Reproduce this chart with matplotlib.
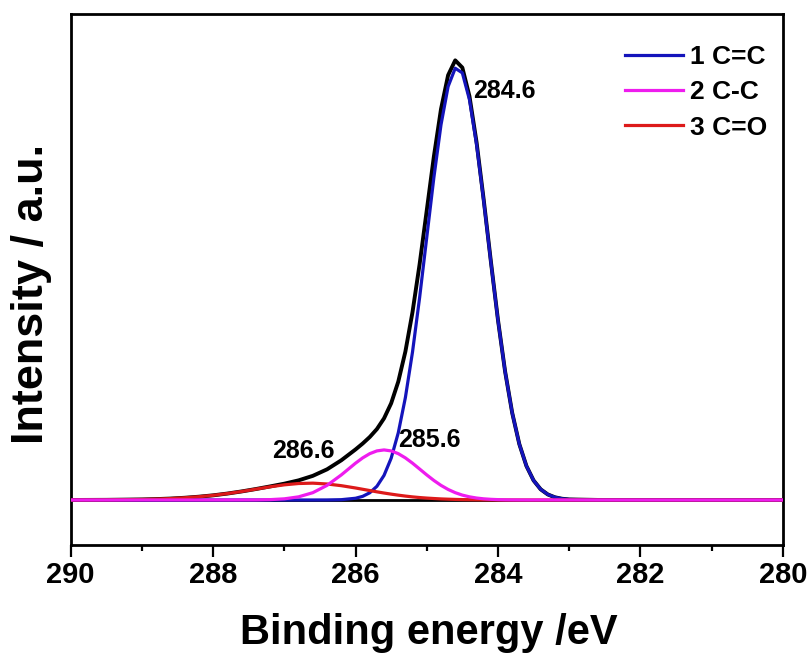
import matplotlib
matplotlib.use('Agg')
import matplotlib.pyplot as plt
from matplotlib.ticker import MultipleLocator

plt.rcParams['font.family'] = ['Liberation Sans', 'DejaVu Sans']
plt.rcParams['font.weight'] = 'bold'

# binding energy grid (eV) and intensities
energy = [290.0, 289.5, 289.0, 288.8, 288.6, 288.4, 288.2, 288.0, 287.8, 287.6,
          287.4, 287.2, 287.0, 286.8, 286.6, 286.4, 286.2,
          286.0, 285.9, 285.8, 285.7, 285.6, 285.5, 285.4, 285.3, 285.2, 285.1,
          285.0, 284.9, 284.8, 284.7, 284.6, 284.5, 284.4, 284.3, 284.2, 284.1,
          284.0, 283.9, 283.8, 283.7, 283.6, 283.5, 283.4, 283.3, 283.2, 283.1,
          283.0, 282.6, 282.0, 281.0, 280.0]

envelope = [0, 0.03, 0.12, 0.20, 0.32, 0.50, 0.74, 1.05, 1.45, 1.93,
            2.47, 3.06, 3.68, 4.43, 5.45, 6.92, 8.96,
            11.41, 12.74, 14.22, 16.01, 18.42, 21.82, 26.71, 33.50, 42.41, 53.25,
            65.35, 77.52, 88.22, 95.89, 99.24, 97.60, 91.13, 80.71, 67.76, 53.93,
            40.68, 29.06, 19.68, 12.62, 7.67, 4.42, 2.41, 1.25, 0.61, 0.28,
            0.12, 0.01, 0, 0, 0]

cc_double = [0, 0, 0, 0, 0, 0, 0, 0, 0, 0,
             0, 0, 0, 0, 0, 0.01, 0.07,
             0.39, 0.82, 1.63, 3.09, 5.55, 9.42, 15.16, 23.12, 33.40, 45.71,
             59.26, 72.78, 84.68, 93.33, 97.46, 96.41, 90.35, 80.22, 67.47, 53.76,
             40.59, 29.02, 19.66, 12.61, 7.67, 4.42, 2.41, 1.25, 0.61, 0.28,
             0.12, 0.01, 0, 0, 0]

cc_single = [0, 0, 0, 0, 0, 0, 0, 0, 0, 0.01,
             0.02, 0.08, 0.26, 0.71, 1.65, 3.30, 5.66,
             8.31, 9.50, 10.46, 11.08, 11.30, 11.08, 10.46, 9.50, 8.31, 6.99,
             5.66, 4.41, 3.30, 2.38, 1.65, 1.10, 0.71, 0.44, 0.26, 0.15,
             0.08, 0.04, 0.02, 0.01, 0, 0, 0, 0, 0, 0,
             0, 0, 0, 0, 0]

co_double = [0, 0.03, 0.12, 0.20, 0.32, 0.50, 0.74, 1.05, 1.45, 1.92,
             2.45, 2.98, 3.42, 3.72, 3.80, 3.61, 3.23,
             2.71, 2.42, 2.13, 1.84, 1.57, 1.32, 1.09, 0.88, 0.70, 0.55,
             0.43, 0.33, 0.24, 0.18, 0.13, 0.09, 0.07, 0.05, 0.03, 0.02,
             0.01, 0, 0, 0, 0, 0, 0, 0, 0, 0,
             0, 0, 0, 0, 0]

labels = ['1 C=C', '2 C-C', '3 C=O']
peak_names = ['284.6', '285.6', '286.6']
peak_pos = [(283.91, 92.3), (284.97, 13.5), (286.73, 11.1)]

fig = plt.figure(figsize=(8.12, 6.61), dpi=100)
ax = fig.add_axes([0.0871, 0.1755, 0.8769, 0.8033])

ax.plot(energy, envelope, color='black', lw=2.8, zorder=2)
ax.axhline(0, color='black', lw=2.0, zorder=1)
ax.plot(energy, cc_double, color='#1414bb', lw=2.3, label=labels[0], zorder=3)
ax.plot(energy, co_double, color='#dd1a1a', lw=2.3, label=labels[2], zorder=4)
ax.plot(energy, cc_single, color='#ee1cee', lw=2.3, label=labels[1], zorder=5)

for name, (px, py) in zip(peak_names, peak_pos):
    ax.text(px, py, name, fontsize=18, fontweight='bold', ha='center', va='center')

ax.set_xlim(290, 280)
ax.set_ylim(-10.16, 109.7)
ax.xaxis.set_major_locator(MultipleLocator(2))
ax.xaxis.set_minor_locator(MultipleLocator(1))
ax.set_yticks([])
ax.tick_params(axis='x', which='major', direction='out', length=8.5, width=1.6,
               labelsize=21, pad=3)
ax.tick_params(axis='x', which='minor', direction='out', length=4.5, width=1.6)
for lab in ax.get_xticklabels():
    lab.set_fontweight('bold')
for s in ax.spines.values():
    s.set_linewidth(2.0)

ax.set_xlabel('Binding energy /eV', fontsize=30, fontweight='bold')
ax.xaxis.set_label_coords(0.503, -0.128)
ax.set_ylabel('Intensity / a.u.', fontsize=32.5, fontweight='bold')
ax.yaxis.set_label_coords(-0.027, 0.473)

h, l = ax.get_legend_handles_labels()
order = [0, 2, 1]
leg = ax.legend([h[i] for i in order], [l[i] for i in order],
                loc='upper right', bbox_to_anchor=(0.978, 0.941),
                frameon=False, fontsize=19, handlelength=2.2,
                handletextpad=0.27, labelspacing=0.42, borderpad=0,
                borderaxespad=0)
for t in leg.get_texts():
    t.set_fontweight('bold')

fig.savefig('out.png', dpi=100)
